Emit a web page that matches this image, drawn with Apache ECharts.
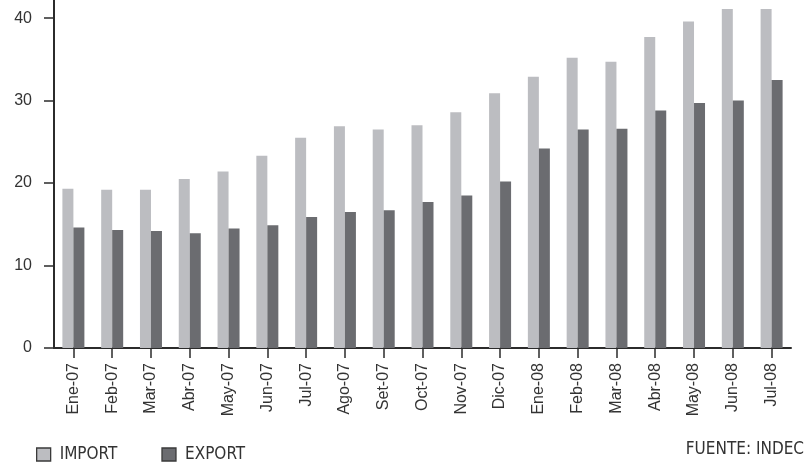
<!DOCTYPE html>
<html>
<head>
<meta charset="utf-8">
<script src="https://cdn.jsdelivr.net/npm/echarts@6/dist/echarts.min.js"></script>
<style>
  html, body { margin: 0; padding: 0; background: #ffffff; }
  #chart { width: 809px; height: 464px; }
</style>
</head>
<body>
<div id="chart"></div>
<script>
// Monthly trade flows, Jan 2007 – Jul 2008
const months = ['Ene-07', 'Feb-07', 'Mar-07', 'Abr-07', 'May-07', 'Jun-07', 'Jul-07', 'Ago-07',
  'Set-07', 'Oct-07', 'Nov-07', 'Dic-07', 'Ene-08', 'Feb-08', 'Mar-08', 'Abr-08', 'May-08',
  'Jun-08', 'Jul-08'];
const importValues = [19.3, 19.2, 19.2, 20.5, 21.4, 23.3, 25.5, 26.9, 26.5, 27.0, 28.6, 30.9,
  32.9, 35.2, 34.7, 37.7, 39.6, 41.1, 41.1];
const exportValues = [14.6, 14.3, 14.2, 13.9, 14.5, 14.9, 15.9, 16.5, 16.7, 17.7, 18.5, 20.2,
  24.2, 26.5, 26.6, 28.8, 29.7, 30.0, 32.5];
const yTicks = [0, 10, 20, 30, 40];
const sourceNote = 'FUENTE: INDEC';

const narrow = "'Liberation Sans Narrow', 'DejaVu Sans Condensed', 'Arial Narrow', sans-serif";
const sans = "'Liberation Sans', Arial, Helvetica, sans-serif";
const axisColor = '#2b2b2b';
const textColor = '#333333';

const chart = echarts.init(document.getElementById('chart'), null, { renderer: 'canvas' });

chart.setOption({
  backgroundColor: '#ffffff',
  animation: false,
  grid: { left: 54, right: 18, top: 0, bottom: 116, containLabel: false },
  title: {
    text: sourceNote,
    right: 5,
    top: 441,
    padding: 0,
    textStyle: { fontFamily: narrow, fontSize: 17, fontWeight: 'normal', color: textColor }
  },
  legend: {
    left: 36,
    top: 446,
    padding: 0,
    itemWidth: 14,
    itemHeight: 13,
    itemGap: 44,
    icon: 'rect',
    itemStyle: { borderColor: '#3a3a3a', borderWidth: 1.3 },
    textStyle: { fontFamily: narrow, fontSize: 17, color: textColor, padding: [0, 0, 0, 4] },
    data: ['IMPORT', 'EXPORT']
  },
  xAxis: {
    type: 'category',
    data: months,
    boundaryGap: true,
    axisLine: { show: true, lineStyle: { color: axisColor, width: 2 } },
    axisTick: { show: true, alignWithLabel: true, length: 10, lineStyle: { color: axisColor, width: 1.5 } },
    axisLabel: {
      rotate: 90,
      interval: 0,
      margin: 15,
      fontFamily: sans,
      fontSize: 16,
      color: textColor
    },
    splitLine: { show: false }
  },
  yAxis: {
    type: 'value',
    min: 0,
    max: 42.2,
    interval: 10,
    axisLine: { show: true, lineStyle: { color: axisColor, width: 2 } },
    axisTick: { show: true, length: 10, customValues: yTicks, lineStyle: { color: axisColor, width: 1.5 } },
    axisLabel: {
      margin: 22,
      customValues: yTicks,
      fontFamily: sans,
      fontSize: 16,
      color: textColor
    },
    splitLine: { show: false }
  },
  series: [
    {
      name: 'IMPORT',
      type: 'bar',
      data: importValues,
      barWidth: 11,
      barGap: '0%',
      itemStyle: { color: '#bcbdc1' }
    },
    {
      name: 'EXPORT',
      type: 'bar',
      data: exportValues,
      barWidth: 11,
      barGap: '0%',
      itemStyle: { color: '#6b6c70' }
    }
  ]
});
</script>
</body>
</html>
